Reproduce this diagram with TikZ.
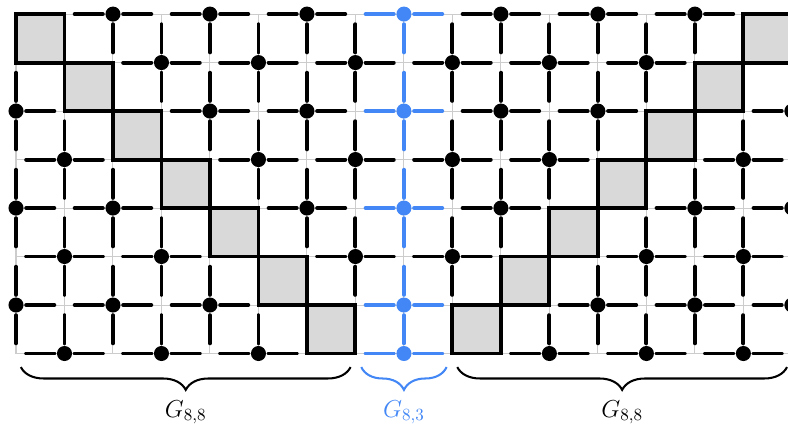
\documentclass[tikz,border=0pt]{standalone}
\usepackage{amsmath}
\usetikzlibrary{decorations.pathreplacing}
\definecolor{gblue}{RGB}{66,135,245}
\definecolor{cellgray}{RGB}{217,217,217}
\tikzset{
  gridline/.style={draw=gray!40, line width=0.6pt},
  edge/.style={line width=2.3pt, line cap=round, shorten <=0.21cm, shorten >=0.21cm},
  vertex/.style={circle, fill, inner sep=0pt, minimum size=0.31cm},
  cell/.style={fill=cellgray, draw=black, line width=2.3pt},
  underbrace/.style={decorate, decoration={brace, mirror, amplitude=0.47cm}, line width=1.2pt},
  grlabel/.style={font=\Large}
}
\begin{document}
\begin{tikzpicture}
          \useasboundingbox (-0.33,0.29) rectangle (15.92,-8.68);
          \clip (-0.33,0.29) rectangle (15.92,-8.68);
          % grid points
          \foreach \c in {0,...,16}
            \foreach \r in {0,...,7}
              \coordinate (v-\c-\r) at (\c,-\r);
          \draw[gridline] (v-0-7) grid (v-16-0);
          % horizontal edges
          \foreach \r in {0,...,7}
            \foreach \c in {0,...,15}{
              \pgfmathtruncatemacro{\n}{\c+1}
              \pgfmathtruncatemacro{\isblue}{(\c==7 || \c==8) && (\r!=1 && \r!=3 && \r!=5)}
              \ifnum\isblue=1 \def\ecol{gblue}\else\def\ecol{black}\fi
              \draw[edge, \ecol] (v-\c-\r) -- (v-\n-\r);
            }
          % vertical edges
          \foreach \c in {0,...,16}
            \foreach \r in {0,...,6}{
              \pgfmathtruncatemacro{\n}{\r+1}
              \ifnum\c=8 \def\ecol{gblue}\else\def\ecol{black}\fi
              \draw[edge, \ecol] (v-\c-\r) -- (v-\c-\n);
            }
          % shaded cells
          \foreach \k in {0,...,6}{
            \pgfmathtruncatemacro{\kk}{\k+1}
            \pgfmathtruncatemacro{\m}{15-\k}
            \pgfmathtruncatemacro{\mm}{16-\k}
            \draw[cell] (v-\k-\k) rectangle (v-\kk-\kk);
            \draw[cell] (v-\m-\k) rectangle (v-\mm-\kk);
          }
          % vertices
          \foreach \c in {0,...,16}
            \foreach \r in {0,...,7}{
              \pgfmathtruncatemacro{\isdot}{(mod(\c+\r,2)==0 && \c!=\r && \c+\r!=16) || (\c==8 && \r==7)}
              \ifnum\isdot=1
                \ifnum\c=8 \def\ecol{gblue}\else\def\ecol{black}\fi
                \node[vertex, fill=\ecol] (d-\c-\r) at (v-\c-\r) {};
              \fi
            }
          % braces
          \coordinate (b1s) at (0.1,-7.28);
          \coordinate (b1e) at (6.9,-7.28);
          \coordinate (b2s) at (7.12,-7.28);
          \coordinate (b2e) at (8.88,-7.28);
          \coordinate (b3s) at (9.1,-7.28);
          \coordinate (b3e) at (15.9,-7.28);
          \draw[underbrace] (b1s) -- (b1e);
          \draw[underbrace, gblue] (b2s) -- (b2e);
          \draw[underbrace] (b3s) -- (b3e);
          \node[grlabel] (g1) at (3.5,-8.21) {$G_{8,8}$};
          \node[grlabel, text=gblue] (g2) at (8,-8.21) {$G_{8,3}$};
          \node[grlabel] (g3) at (12.5,-8.21) {$G_{8,8}$};
\end{tikzpicture}
\end{document}
